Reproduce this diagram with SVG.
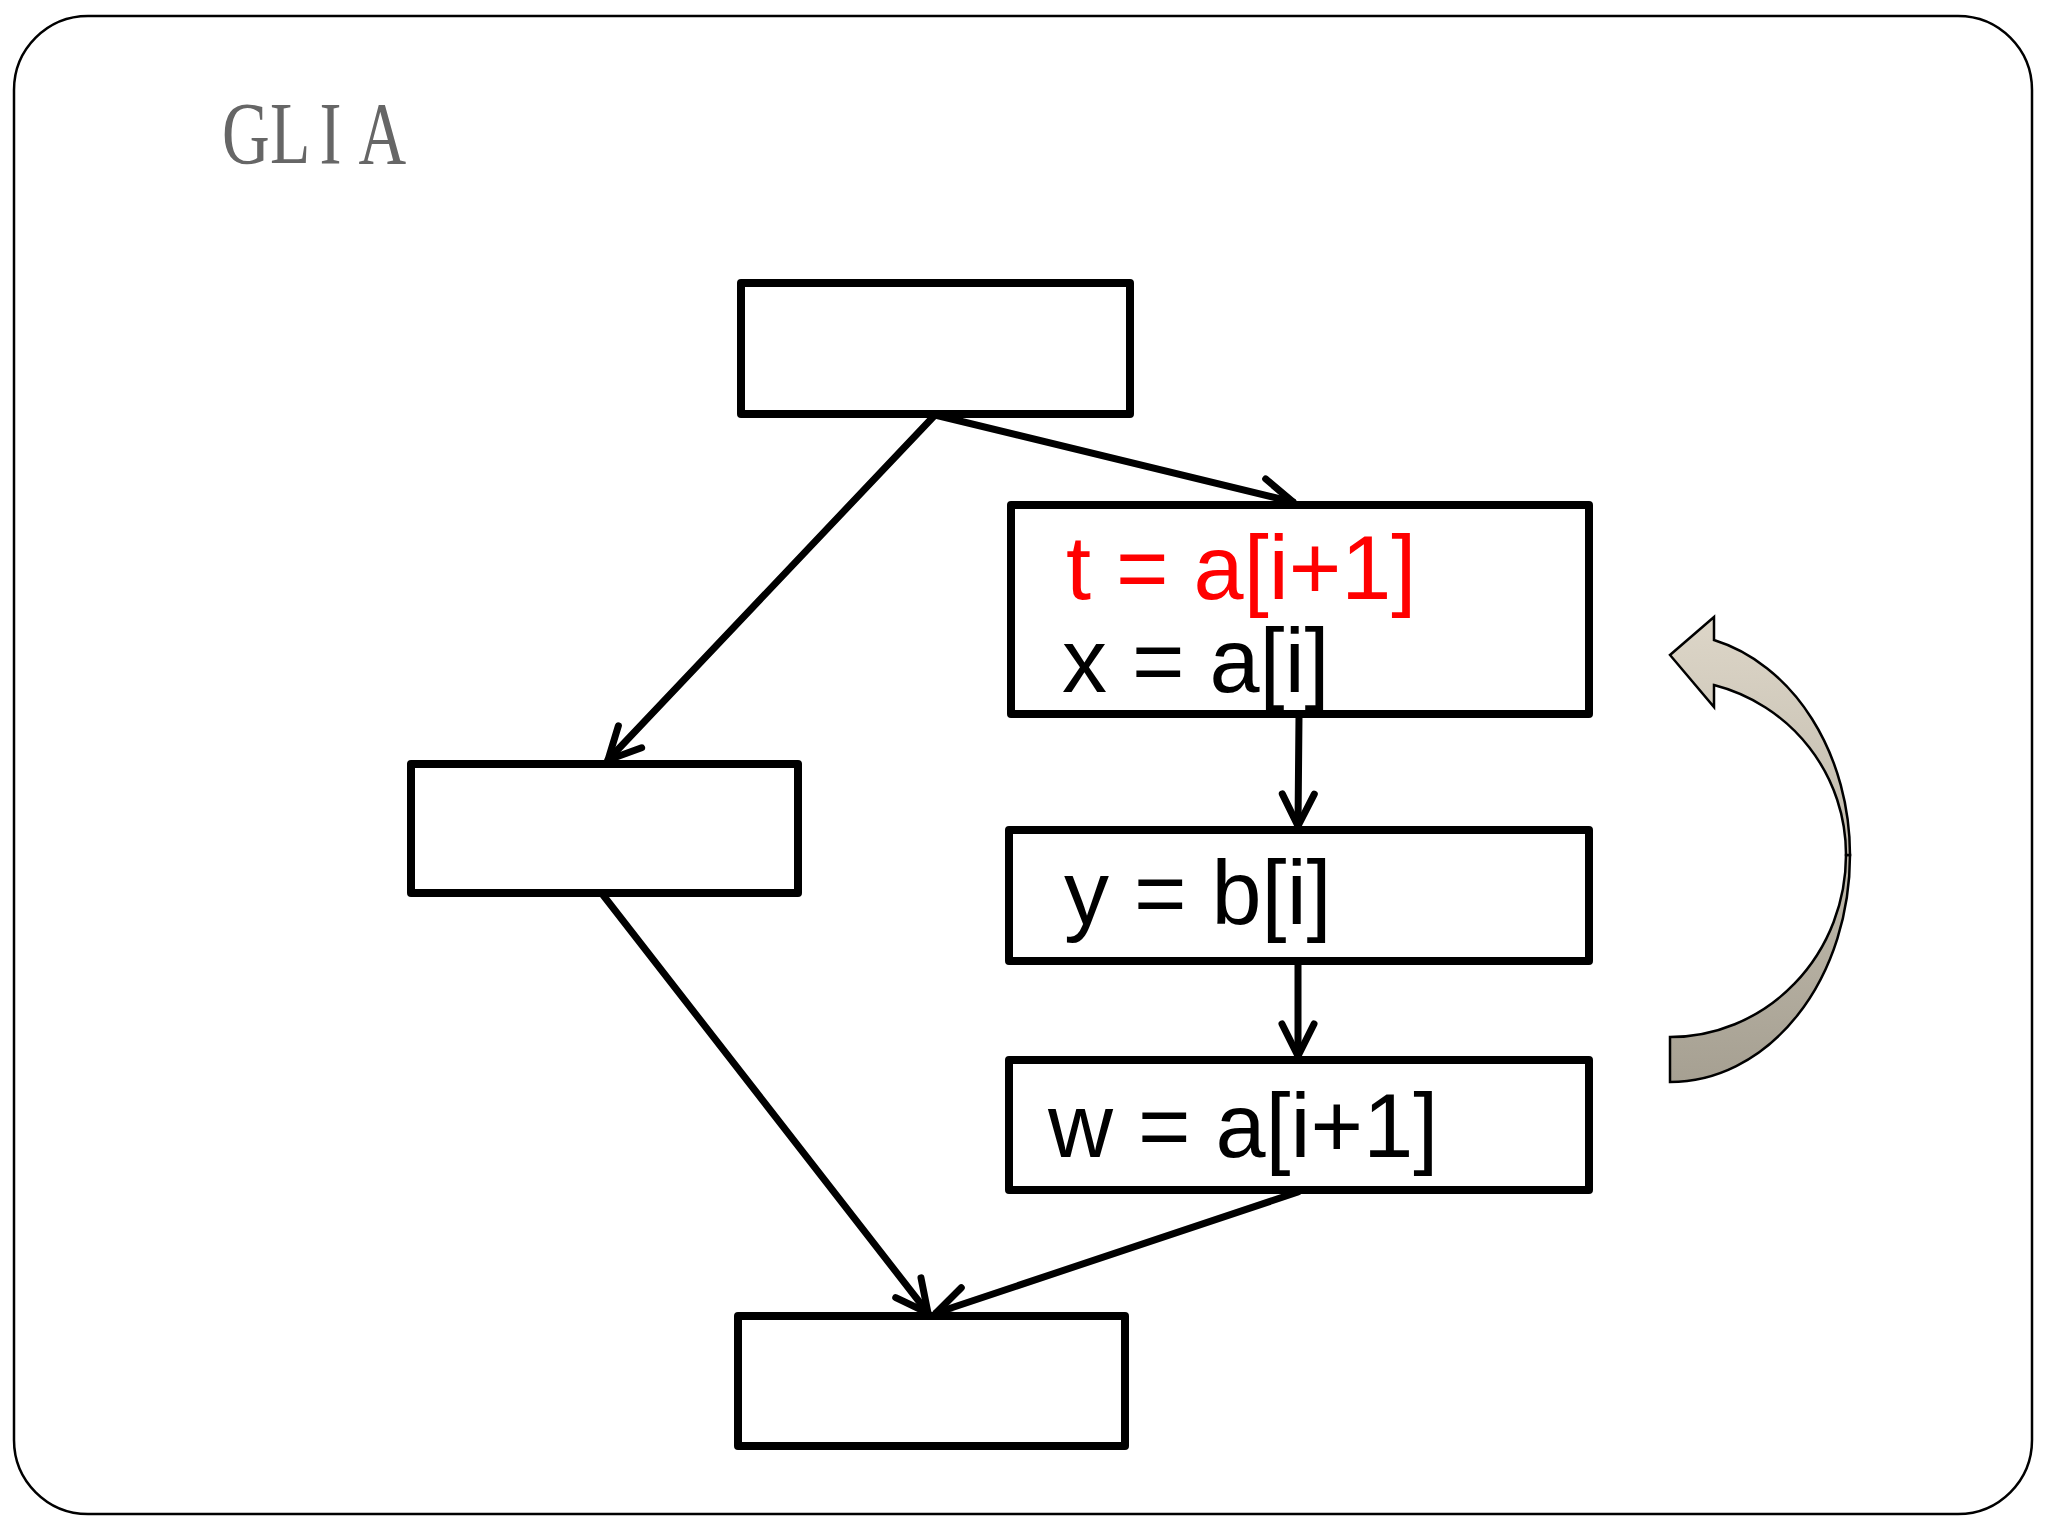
<svg xmlns="http://www.w3.org/2000/svg" width="2048" height="1536" viewBox="0 0 2048 1536">
<defs>
<style>
.box{fill:#fff;stroke:#000;stroke-width:8;stroke-linejoin:round}
.edge{fill:none;stroke:#000;stroke-width:7;stroke-linecap:round}
.code{font-family:"Liberation Sans",Arial,sans-serif;font-size:90px}
</style>
<marker id="arr" markerUnits="userSpaceOnUse" markerWidth="60" markerHeight="60" viewBox="-40 -30 50 60" refX="0" refY="0" orient="auto" overflow="visible">
<path d="M -32,-16 L 0,0 L -32,16" fill="none" stroke="#000" stroke-width="7" stroke-linecap="round" stroke-linejoin="round"/>
</marker>
<linearGradient id="cg" gradientUnits="userSpaceOnUse" x1="0" y1="617" x2="0" y2="1082">
<stop offset="0" stop-color="#ddd6c8"/>
<stop offset="1" stop-color="#a6a092"/>
</linearGradient>
</defs>
<rect width="2048" height="1536" fill="#fff"/>
<rect x="14" y="16" width="2018" height="1498" rx="74" ry="74" fill="#fff" stroke="#000" stroke-width="2.5"/>
<text transform="translate(222,163) scale(0.75,1)" font-family="'Liberation Serif','Times New Roman',serif" font-size="88" fill="#666"><tspan x="0">G</tspan><tspan x="64">L</tspan><tspan x="130">I</tspan><tspan x="182">A</tspan></text>

<g id="connectors">
<line class="edge" x1="935" y1="415" x2="608" y2="760" marker-end="url(#arr)"/>
<line class="edge" x1="935" y1="415" x2="1293" y2="502" marker-end="url(#arr)"/>
<line class="edge" x1="1299" y1="716" x2="1298" y2="826" marker-end="url(#arr)"/>
<line class="edge" x1="1298" y1="962" x2="1298" y2="1056" marker-end="url(#arr)"/>
<line class="edge" x1="603" y1="895" x2="928" y2="1313" marker-end="url(#arr)"/>
<line class="edge" x1="1298" y1="1192" x2="936" y2="1313" marker-end="url(#arr)"/>
</g>

<g id="n_top"><rect class="box" x="741" y="283" width="389" height="131"/></g>
<g id="n_tx">
<rect class="box" x="1011" y="505" width="578" height="209"/>
<text class="code" x="1066" y="599" fill="#ff0000">t = a[i+1]</text>
<text class="code" x="1062" y="692" fill="#000">x = a[i]</text>
</g>
<g id="n_left"><rect class="box" x="411" y="764" width="387" height="129"/></g>
<g id="n_y">
<rect class="box" x="1009" y="830" width="580" height="131"/>
<text class="code" x="1064" y="924" fill="#000">y = b[i]</text>
</g>
<g id="n_w">
<rect class="box" x="1009" y="1060" width="580" height="130"/>
<text class="code" x="1048" y="1157" fill="#000">w = a[i+1]</text>
</g>
<g id="n_bottom"><rect class="box" x="738" y="1316" width="387" height="130"/></g>

<g id="loop_arrow" fill="url(#cg)" stroke="#000" stroke-width="2.5" stroke-linejoin="miter">
<path d="M 1850,855 A 180 227 0 0 1 1670,1082 L 1670,1037 A 176 182 0 0 0 1846,855 Z"/>
<path d="M 1670,655 L 1714,617 L 1714,640 A 180 222 0 0 1 1850,855 L 1846,855 A 176 175 0 0 0 1714,685 L 1714,707 Z"/>
</g>
</svg>
